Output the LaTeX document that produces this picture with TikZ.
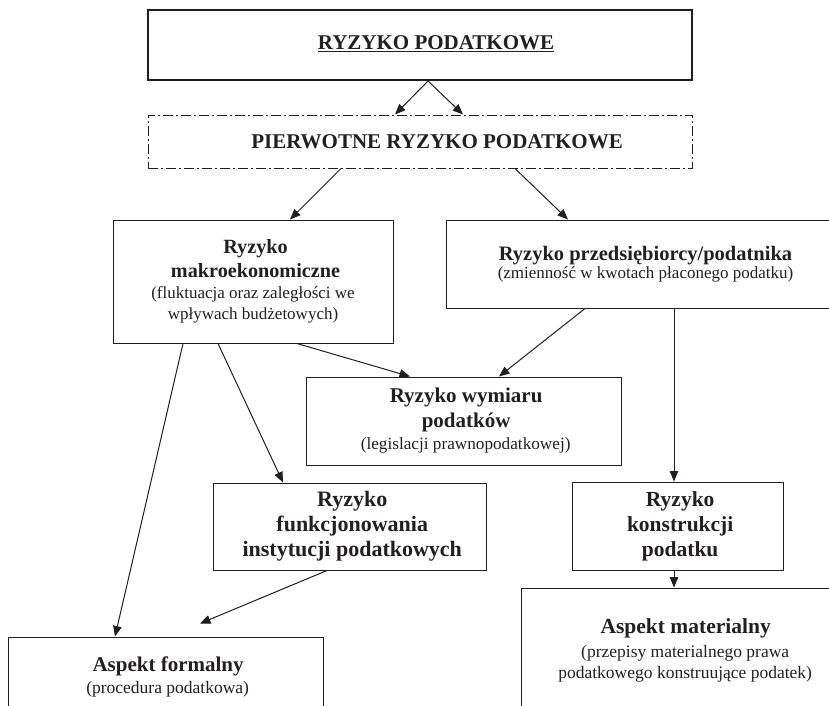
\documentclass[tikz,border=0pt]{standalone}
\usepackage{fontspec}
\setmainfont{Liberation Serif}
\usetikzlibrary{arrows.meta}
\definecolor{ink}{HTML}{231F20}
\newcommand{\bfnt}[1][20.5]{\fontsize{#1}{21}\selectfont\bfseries}
\newcommand{\rfnt}[1][17]{\fontsize{#1}{21}\selectfont\mdseries}
\tikzset{
  box/.style={draw=ink, line width=1pt, inner sep=0pt, align=center, text=ink,
    font=\fontsize{17}{21}\selectfont},
  arr/.style={draw=ink, line width=1pt, -{Triangle[length=10.5pt,width=8.5pt]}},
  dashdot/.style={dash pattern=on 10pt off 3pt on 2pt off 3pt}
}
\begin{document}
\begin{tikzpicture}[x=1pt,y=-1pt]
\useasboundingbox (0,0) rectangle (829,705);
\clip (0,0) rectangle (829,705);
\fill[white] (0,0) rectangle (829,705);
% boxes
\node[box, line width=2pt, minimum width=544pt, minimum height=70pt] (top) at (420,45) {};
\node[text=ink, inner sep=0pt] (toplabel) at (436,44) {\fontsize{21}{25}\selectfont\bfseries\underline{RYZYKO PODATKOWE}};
\node[box, dashdot, minimum width=544pt, minimum height=53pt] (prim) at (420,141.5) {};
\node[text=ink, inner sep=0pt] (primlabel) at (437,142) {\fontsize{21}{25}\selectfont\bfseries PIERWOTNE RYZYKO PODATKOWE};
\node[box, minimum width=280pt, minimum height=123pt] (macro) at (253,281.5)
  {\bfnt[20.2] Ryzyko\\[3pt] \bfnt[20.2] makroekonomiczne\\ \rfnt (fluktuacja oraz zaległości we\\ \rfnt wpływach budżetowych)};
\node[box, minimum width=399pt, minimum height=88pt] (przed) at (645.5,264)
  {\bfnt Ryzyko przedsiębiorcy/podatnika\\[-3pt] \rfnt (zmienność w kwotach płaconego podatku)};
\node[box, minimum width=315pt, minimum height=88pt] (wym) at (463.5,421)
  {\bfnt[21] Ryzyko wymiaru\\[4pt] \bfnt[21] podatków\\[1pt] \rfnt[17.2] (legislacji prawnopodatkowej)};
\node[box, minimum width=273pt, minimum height=87pt] (funk) at (349.5,526.5)
  {\bfnt[22] Ryzyko\\[4pt] \bfnt[22] funkcjonowania\\[4pt] \bfnt[22] instytucji podatkowych};
\node[box, minimum width=211pt, minimum height=88pt] (konst) at (677.5,526)
  {\bfnt[21.5] Ryzyko\\[4pt] \bfnt[21.5] konstrukcji\\[4pt] \bfnt[21.5] podatku};
\node[box, minimum width=315pt, minimum height=80pt] (formal) at (165.5,677)
  {\bfnt[21] Aspekt formalny\\[1pt] \rfnt[17.5] (procedura podatkowa)};
\node[box, minimum width=324pt, minimum height=124pt] (mat) at (683,650)
  {\bfnt[21.5] Aspekt materialny\\[3pt] \rfnt[17.5] (przepisy materialnego prawa\\ \rfnt[17.5] podatkowego konstruujące podatek)};
% connectors
\draw[arr] ([xshift=8pt]top.south) -- ([xshift=-25pt]prim.north);
\draw[arr] ([xshift=8pt]top.south) -- ([xshift=43pt]prim.north);
\draw[arr] ([xshift=-79pt]prim.south) -- ([xshift=37pt]macro.north);
\draw[arr] ([xshift=95pt]prim.south) -- ([xshift=-77.5pt]przed.north);
\draw[arr] ([xshift=-70pt]macro.south) -- ([xshift=-50.5pt]formal.north);
\draw[arr] ([xshift=-35pt]macro.south) -- ([xshift=-66.5pt]funk.north);
\draw[arr] ([xshift=44pt]macro.south) -- ([xshift=-53.5pt]wym.north);
\draw[arr] ([xshift=-60.5pt]przed.south) -- ([xshift=35.5pt]wym.north);
\draw[arr] ([xshift=28.5pt]przed.south) -- ([xshift=-3.5pt]konst.north);
\draw[arr] ([xshift=-22.5pt]funk.south) -- ([xshift=34.5pt,yshift=13pt]formal.north);
\draw[arr] ([xshift=-3.5pt]konst.south) -- ([xshift=-9pt]mat.north);
\end{tikzpicture}
\end{document}
